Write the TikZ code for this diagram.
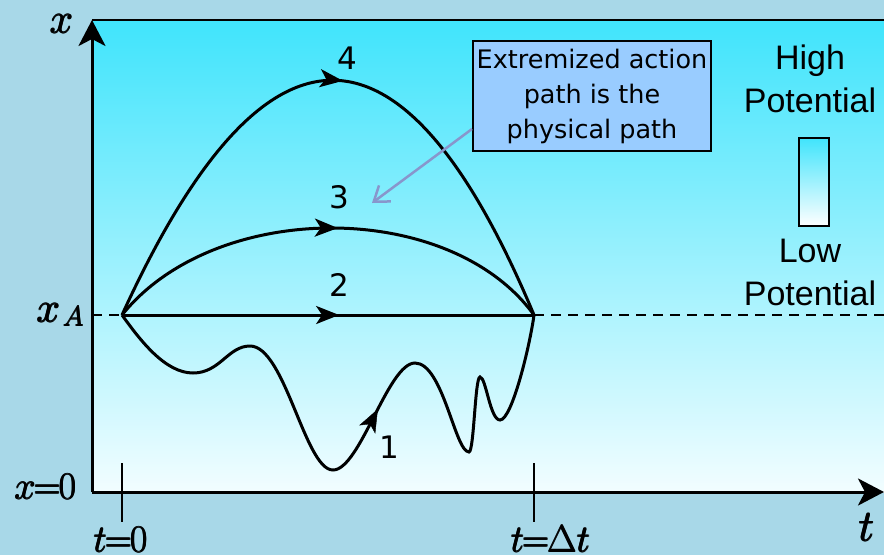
\RequirePackage{fix-cm}
\documentclass[tikz,border=0pt]{standalone}
\usepackage[no-math]{fontspec}
\newfontfamily\dejavu{DejaVu Sans}
\newfontfamily\libsans{Liberation Sans}
\usetikzlibrary{arrows.meta,decorations.markings}
\definecolor{bgblue}{RGB}{168,216,232}
\definecolor{topcyan}{RGB}{64,228,252}
\definecolor{botwhite}{RGB}{242,253,255}
\definecolor{boxblue}{RGB}{153,204,255}
\definecolor{pointcol}{RGB}{136,150,204}
\newcommand\heavytext[1]{\rlap{\hspace{0.8pt}#1}\rlap{\raisebox{0.5pt}{#1}}\rlap{\hspace{0.8pt}\raisebox{0.5pt}{#1}}#1}
\begin{document}
\begin{tikzpicture}[x=1pt,y=-1pt,
  axis/.style={line width=3pt,-{Stealth[length=26pt,width=27pt,inset=7pt]}},
  route/.style={line width=3pt,postaction={decorate},
    decoration={markings,mark=at position #1 with {\arrow{Stealth[length=23pt,width=18pt,inset=6pt]}}}},
  tickline/.style={line width=1.4pt},
  mathlbl/.style={inner sep=0pt,font=\fontsize{#1}{#1}\selectfont},
  numlbl/.style={inner sep=0pt,font=\dejavu\fontsize{31}{36}\selectfont},
  potlbl/.style={inner sep=0pt,font=\libsans\fontsize{34}{43}\selectfont,anchor=base},
  infobox/.style={draw=black,line width=2pt,fill=boxblue,align=center,
    minimum width=238pt,minimum height=110pt,inner sep=0pt,
    font=\dejavu\fontsize{25.5}{35}\selectfont},
  pointer/.style={draw=pointcol,line width=2.5pt,-{Straight Barb[length=14pt,width=20pt]}}
]
\useasboundingbox (0,0) rectangle (884,555);
\fill[bgblue] (0,0) rectangle (884,555);
\shade[top color=topcyan,bottom color=botwhite] (92,20) rectangle (884,492);
\draw[line width=2.5pt] (92,20) -- (884,20);

% coordinates
\coordinate (O) at (92,492);
\coordinate (xtop) at (92,20);
\coordinate (tend) at (884,492);
\coordinate (A) at (122,315);
\coordinate (B) at (534,315);
\coordinate (dl) at (92,315);
\coordinate (dr) at (884,315);
\coordinate (ptip) at (372,203);

% dashed level line
\draw[line width=2.5pt,dash pattern=on 10pt off 7pt] (dl) -- (dr);

% ticks
\draw[tickline] (122,463) -- (122,522);
\draw[tickline] (534,463) -- (534,522);

% axes
\draw[axis] (O) -- (xtop);
\draw[axis] (O) -- (tend);

% paths
\draw[route=0.527] (A) -- (B);
\draw[route=0.52] (A) .. controls (215,199) and (450,199) .. (B);
\draw[route=0.52] (A) .. controls (265,2) and (403,2) .. (B);
\draw[line width=3pt] (A) .. controls (140,340) and (165,373) .. (193,373)
  .. controls (220,373) and (228,346) .. (250,346)
  .. controls (285,346) and (305,470) .. (333,470)
  .. controls (360,470) and (388,363) .. (415,363)
  .. controls (443,363) and (455,452) .. (469,452)
  .. controls (474,452) and (475,377) .. (480,377)
  .. controls (486,377) and (490,420) .. (500,420)
  .. controls (512,420) and (530,345) .. (B);
\path[postaction={decorate},decoration={markings,mark=at position 0.56 with {\arrow{Stealth[length=23pt,width=18pt,inset=6pt]}}}]
  (333,470) .. controls (360,470) and (388,363) .. (415,363);

% path labels
\node[numlbl] (n4) at (347,58) {4};
\node[numlbl] (n3) at (339,197) {3};
\node[numlbl] (n2) at (339,285) {2};
\node[numlbl] (n1) at (389,447) {1};

% axis labels
\node[mathlbl=42] (lx) at (61,24) {\heavytext{$x$}};
\node[mathlbl=42,anchor=base west] (lxa) at (36,322) {\heavytext{$x$\hspace{3pt}\raisebox{-4pt}{\fontsize{28}{30}\selectfont$A$}}};
\node[mathlbl=38,anchor=base east] (lx0) at (76,499) {\heavytext{$x\mkern-1mu{=}\mkern-1mu0$}};
\node[mathlbl=38,anchor=base] (lt0) at (120,552) {\heavytext{$t\mkern-1mu{=}\mkern-1mu0$}};
\node[mathlbl=38,anchor=base] (ltd) at (550,552) {\heavytext{$t\mkern-1mu{=}\mkern-1mu\Delta t$}};
\node[mathlbl=44,anchor=base] (lt) at (866,541) {\heavytext{$t$}};

% info box and pointer
\node[infobox] (box) at (592,96) {Extremized action\\path is the\\physical path};
\draw[pointer] ([yshift=-33pt]box.west) -- (ptip);

% potential legend
\node[potlbl] (hi1) at (810,69) {High};
\node[potlbl] (hi2) at (810,112) {Potential};
\shade[top color=topcyan,bottom color=white,draw=black,line width=2pt] (799,138) rectangle (829,226);
\node[potlbl] (lo1) at (810,262) {Low};
\node[potlbl] (lo2) at (810,305) {Potential};
\end{tikzpicture}
\end{document}
